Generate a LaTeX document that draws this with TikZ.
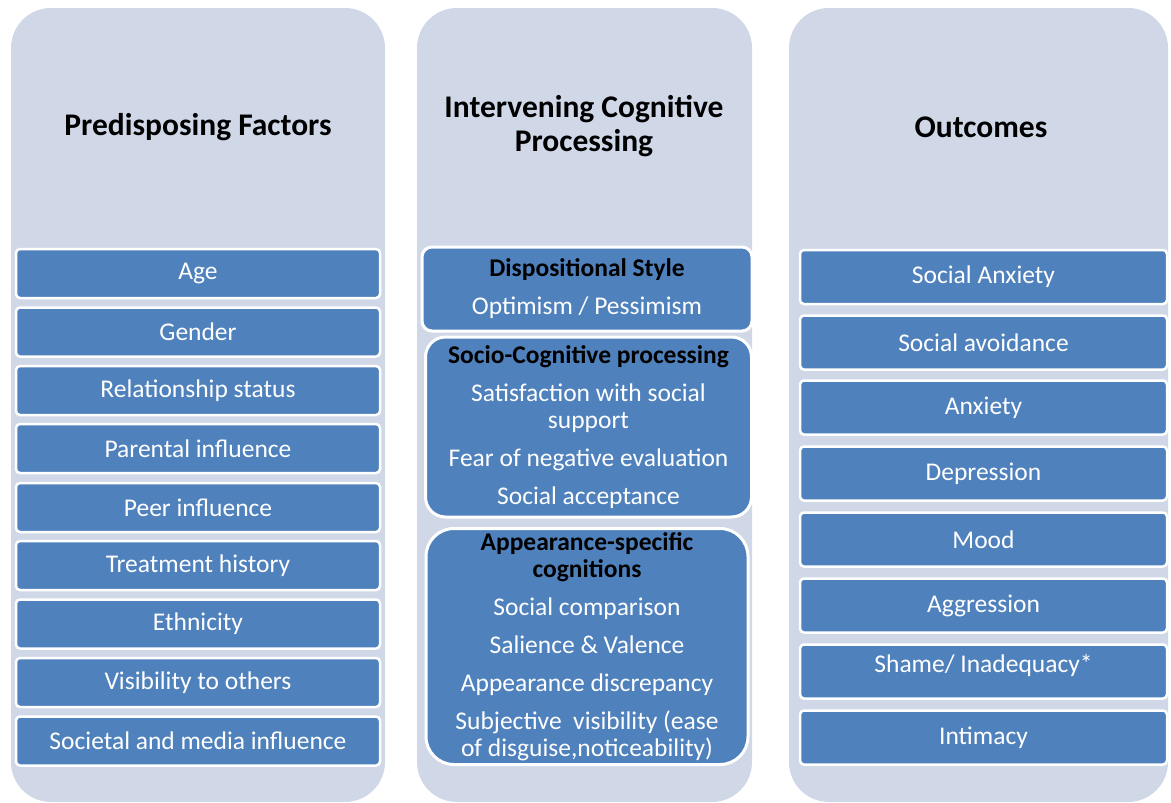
\documentclass[tikz,border=0pt]{standalone}
\usepackage{fontspec}
\setmainfont{Carlito}
\definecolor{colbg}{HTML}{D0D8E8}
\definecolor{boxblue}{HTML}{4F81BD}
\begin{document}
\begin{tikzpicture}[x=1pt,y=-1pt,
  colbox/.style={fill=colbg, rounded corners=40pt, inner sep=0pt},
  coltitle/.style={font=\fontsize{31.5}{34}\selectfont\bfseries, align=center, text=black, inner sep=0pt},
  factor/.style={fill=boxblue, draw=white, line width=2.5pt, rounded corners=4pt, text=white,
    font=\fontsize{25.5}{27}\selectfont, inner sep=0pt, minimum width=364pt, minimum height=49pt},
  outcome/.style={factor, minimum width=367pt, minimum height=54pt},
  cogbox/.style={fill=boxblue, draw=white, line width=3pt, text=white, align=center,
    font=\fontsize{25.5}{27}\selectfont, inner sep=0pt}
]
\useasboundingbox (0,0) rectangle (1171,803);
\fill[white] (0,0) rectangle (1171,803);

% column backgrounds
\node[colbox, minimum width=374pt, minimum height=794pt] (c1) at (198,405) {};
\node[colbox, minimum width=335pt, minimum height=794pt] (c2) at (584.5,405) {};
\node[colbox, minimum width=379pt, minimum height=794pt] (c3) at (978.5,405) {};

% titles
\node[coltitle] (t1) at (198,127) {Predisposing Factors};
\node[coltitle] (t2) at (584,126) {Intervening Cognitive\\Processing};
\node[coltitle] (t3) at (981,127) {Outcomes};

% column 1
\node[factor] (p1) at (198,273.5) {Age};
\node[factor] (p2) at (198,332) {Gender};
\node[factor] (p3) at (198,390.5) {Relationship status};
\node[factor] (p4) at (198,448.5) {Parental influence};
\node[factor] (p5) at (198,507.5) {Peer influence};
\node[factor] (p6) at (198,565.5) {Treatment history};
\node[factor] (p7) at (198,624) {Ethnicity};
\node[factor] (p8) at (198,682.5) {Visibility to others};
\node[factor] (p9) at (198,741) {Societal and media influence};

% column 2
\node[cogbox, rounded corners=10pt, minimum width=330pt, minimum height=84pt] (g1) at (587,289)
  {\textcolor{black}{\bfseries Dispositional Style}\\[11pt]Optimism / Pessimism};
\node[cogbox, rounded corners=20pt, minimum width=326pt, minimum height=180pt] (g2) at (588.5,427)
  {\textcolor{black}{\bfseries Socio-Cognitive processing}\\[11pt]Satisfaction with social\\support\\[11pt]Fear of negative evaluation\\[11pt]Social acceptance};
\node[cogbox, rounded corners=28pt, minimum width=322pt, minimum height=236pt] (g3) at (587,646.5)
  {\textcolor{black}{\bfseries Appearance-specific}\\\textcolor{black}{\bfseries cognitions}\\[11pt]Social comparison\\[11pt]Salience \& Valence\\[11pt]Appearance discrepancy\\[11pt]Subjective\ \ visibility (ease\\of disguise,noticeability)};

% column 3
\node[outcome] (o1) at (983.5,277) {Social Anxiety};
\node[outcome] (o2) at (983.5,342.5) {Social avoidance};
\node[outcome] (o3) at (983.5,407.5) {Anxiety};
\node[outcome] (o4) at (983.5,473.5) {Depression};
\node[outcome] (o5) at (983.5,539.5) {Mood};
\node[outcome] (o6) at (983.5,605.5) {Aggression};
\node[outcome] (o7) at (983.5,671.5) {\raisebox{16pt}{Shame/ Inadequacy*}};
\node[outcome] (o8) at (983.5,737.5) {Intimacy};
\end{tikzpicture}
\end{document}
